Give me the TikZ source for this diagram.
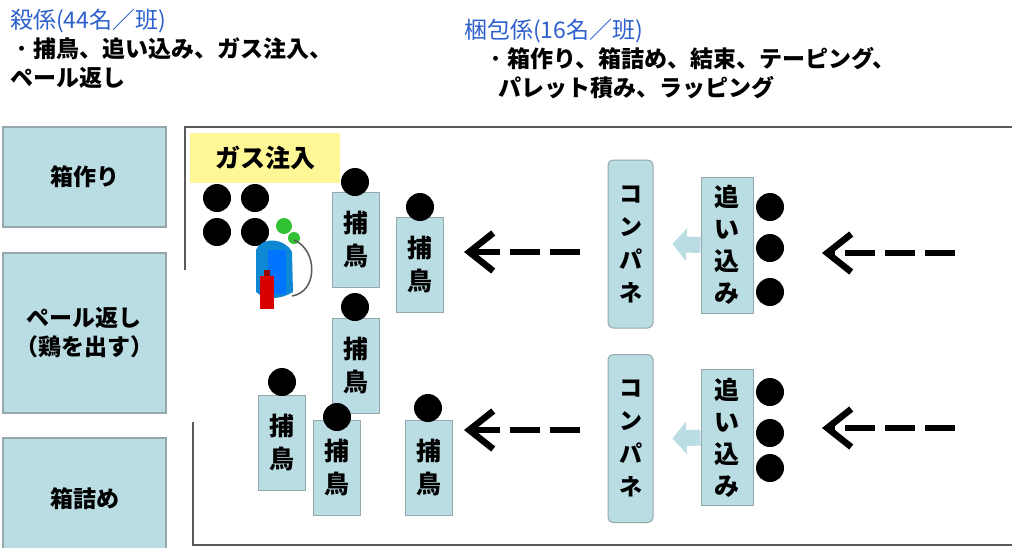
\documentclass[tikz,border=0pt]{standalone}
\usepackage{fontspec}
\setmainfont{Noto Sans CJK JP}
\usetikzlibrary{arrows.meta}

\definecolor{boxblue}{RGB}{186,221,227}
\definecolor{boxline}{RGB}{150,168,172}
\definecolor{headblue}{RGB}{45,95,205}
\definecolor{gasyellow}{RGB}{255,247,150}
\definecolor{frameline}{RGB}{90,90,90}

\begin{document}
\begin{tikzpicture}[x=1pt, y=-1pt,
    station/.style={rectangle, draw=boxline, fill=boxblue, line width=1.5pt, minimum width=163pt, align=center, font=\fontsize{23}{29}\selectfont\bfseries},
    catcher/.style={rectangle, draw=boxline, fill=boxblue, line width=1pt, minimum width=47pt, minimum height=95pt, align=center, font=\fontsize{25}{33}\selectfont\bfseries},
    panel/.style={rectangle, rounded corners=5pt, draw=boxline, fill=boxblue, line width=1pt, minimum width=45pt, minimum height=168pt, align=center, font=\fontsize{23}{33}\selectfont\bfseries},
    pusher/.style={rectangle, draw=boxline, fill=boxblue, line width=1pt, minimum width=52pt, minimum height=136pt, align=center, font=\fontsize{25}{32}\selectfont\bfseries},
    bird/.style={circle, fill=black, minimum size=28pt, inner sep=0pt},
    head/.style={anchor=north west, align=left, inner sep=0pt, font=\fontsize{23}{29}\selectfont},
    frame/.style={draw=frameline, line width=2pt},
    flow/.style={line width=6.5pt, dash pattern=on 30pt off 10pt, -{Straight Barb[length=24pt, width=38pt]}},
    shove/.style={boxblue, line width=16pt, -{Triangle[length=14pt, width=32pt]}}
]
    \clip (0,0) rectangle (1012,547);
    \fill[white] (0,0) rectangle (1012,547);

    % Crew notes
    \node[head] (kill_head) at (10,9) {{\color{headblue}殺係(44名／班)}\\・\textbf{捕鳥、追い込み、ガス注入、}\\\textbf{ペール返し}};
    \node[head] (pack_head) at (464,19) {{\color{headblue}梱包係(16名／班)}\\\hspace*{20pt}・\textbf{箱作り、箱詰め、結束、テーピング、}\\\hspace*{34pt}\textbf{パレット積み、ラッピング}};

    % Packing stations
    \node[station, minimum height=100pt] (box_make) at (84.5,177) {箱作り};
    \node[station, minimum height=160pt] (pail_back) at (84.5,333) {ペール返し\\（鶏を出す）};
    \node[station, minimum height=130pt] (box_fill) at (84.5,503) {\raisebox{10pt}{箱詰め}};

    % Floor outline
    \draw[frame] (185,270) -- (185,127) -- (1030,127);
    \draw[frame] (193,422) -- (193,545) -- (1030,545);

    % Gas injection corner
    \node[fill=gasyellow, minimum width=150pt, minimum height=50pt, inner sep=0pt, font=\fontsize{25}{30}\selectfont\bfseries] (gas) at (265,158) {ガス注入};
    \node[bird] (gas_a) at (217,198) {};
    \node[bird] (gas_b) at (255,198) {};
    \node[bird] (gas_c) at (217,232) {};
    \node[bird] (gas_d) at (255,232) {};

    % Gas cylinder
    \fill[green!70!black!80] (284,226) circle (8) (294,238) circle (6);
    \fill[cyan!70!blue] (256,250) .. controls (262,236) and (285,238) .. (292,252) -- (293,292) .. controls (280,300) and (265,300) .. (256,292) -- cycle;
    \fill[blue!55!cyan] (268,250) rectangle (286,294);
    \draw[gray!70!black, line width=1.5pt] (294,240) .. controls (318,250) and (318,292) .. (292,296);
    \fill[red!85!black] (260,276) rectangle (274,309);
    \fill[red!60!black] (264,270) rectangle (270,276);

    % Catchers
    \node[catcher] (catch_a) at (356,240) {捕\\鳥};
    \node[catcher] (catch_b) at (420,265) {捕\\鳥};
    \node[catcher] (catch_c) at (355.5,365.5) {捕\\鳥};
    \node[catcher] (catch_d) at (282,442.5) {捕\\鳥};
    \node[catcher] (catch_e) at (337,467.5) {捕\\鳥};
    \node[catcher] (catch_f) at (428.5,467.5) {捕\\鳥};
    \node[bird] (bird_a) at (355,182) {};
    \node[bird] (bird_b) at (420,207) {};
    \node[bird] (bird_c) at (355,307) {};
    \node[bird] (bird_d) at (282,382) {};
    \node[bird] (bird_e) at (337,417) {};
    \node[bird] (bird_f) at (428,408) {};

    % Conveyor panels and pushers
    \node[panel] (panel_top) at (630.5,244) {コ\\ン\\パ\\ネ};
    \node[panel] (panel_low) at (630.5,438.5) {コ\\ン\\パ\\ネ};
    \node[pusher] (push_top) at (727,245) {追\\い\\込\\み};
    \node[pusher] (push_low) at (727,437.5) {追\\い\\込\\み};
    \draw[shove] (push_top.west) -- ([xshift=19pt]panel_top.east);
    \draw[shove] (push_low.west) -- ([xshift=19pt]panel_low.east);

    \node[bird] (herd_a) at (770,207) {};
    \node[bird] (herd_b) at (770,248) {};
    \node[bird] (herd_c) at (770,292) {};
    \node[bird] (herd_d) at (770,392) {};
    \node[bird] (herd_e) at (770,433) {};
    \node[bird] (herd_f) at (770,468) {};

    % Flow direction
    \coordinate (in_top) at (955,253);
    \coordinate (in_low) at (955,428);
    \coordinate (mid_top) at (580,252);
    \coordinate (mid_low) at (580,430);
    \draw[flow] (in_top) -- (822,253);
    \draw[flow] (in_low) -- (822,428);
    \draw[flow] (mid_top) -- (464,252);
    \draw[flow] (mid_low) -- (464,430);
\end{tikzpicture}
\end{document}
